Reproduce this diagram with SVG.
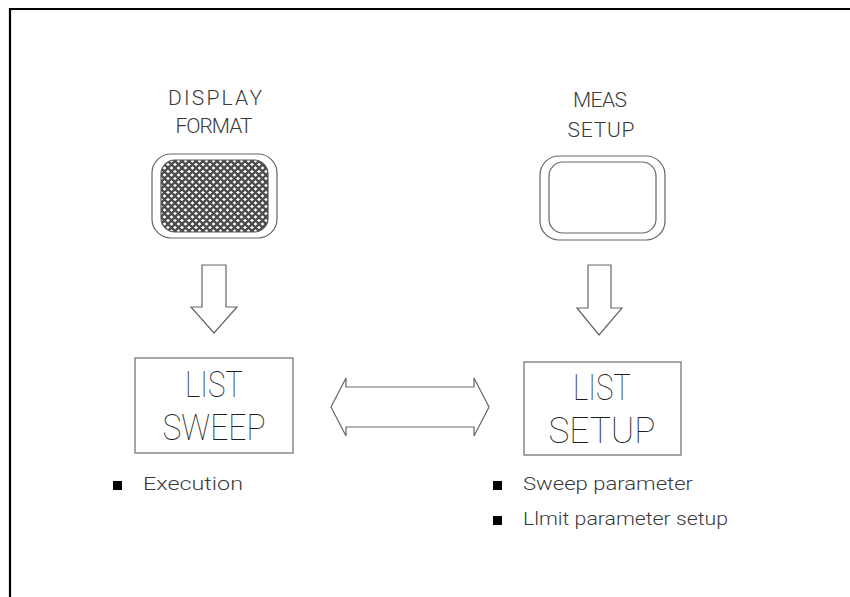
<svg xmlns="http://www.w3.org/2000/svg" width="850" height="597" viewBox="0 0 850 597">
<defs>
<pattern id="hatch" width="7" height="7" patternUnits="userSpaceOnUse">
<rect width="7" height="7" fill="#fff"/>
<path d="M0,0 L7,7 M7,0 L0,7 M-1,6 L1,8 M6,-1 L8,1 M6,8 L8,6 M-1,1 L1,-1" stroke="#4a4a4a" stroke-width="2.3"/>
</pattern>
<style>
.lbl{font-family:Roboto,"Liberation Sans",Arial,sans-serif;font-weight:300;fill:#3a3a3a}
.key{fill:none;stroke:#666;stroke-width:1.2}
.box{fill:none;stroke:#777;stroke-width:1.3}
.big{font-size:36px;text-anchor:middle;font-weight:100;fill:#1e1e1e}
.top{font-size:21px;text-anchor:middle}
.note{font-size:18px}
.arrow{fill:#fff;stroke:#666;stroke-width:1.2;stroke-linejoin:miter}
</style>
</defs>
<rect width="850" height="597" fill="#fff"/>
<g id="frame" stroke="#000" stroke-width="2.2" fill="none">
<line x1="9" y1="9" x2="850" y2="9"/>
<line x1="10" y1="8" x2="10" y2="597"/>
</g>
<g id="display-format">
<text class="lbl top" x="215" y="105" textLength="94" lengthAdjust="spacing">DISPLAY</text>
<text class="lbl top" x="214" y="133" textLength="77" lengthAdjust="spacing">FORMAT</text>
<rect class="key" x="152" y="154" width="125" height="84" rx="19" ry="19"/>
<rect x="161" y="160" width="107" height="72" rx="14" ry="14" fill="url(#hatch)" stroke="#555" stroke-width="1.2"/>
</g>
<g id="meas-setup">
<text class="lbl top" x="600" y="107" textLength="54" lengthAdjust="spacing">MEAS</text>
<text class="lbl top" x="601" y="137" textLength="67" lengthAdjust="spacing">SETUP</text>
<rect class="key" x="540" y="156" width="125" height="84" rx="19" ry="19"/>
<rect class="key" x="549" y="162" width="107" height="71" rx="14" ry="14"/>
</g>
<g id="list-sweep">
<rect class="box" x="135" y="358" width="158" height="95"/>
<text class="lbl big" x="214" y="397" textLength="58" lengthAdjust="spacingAndGlyphs">LIST</text>
<text class="lbl big" x="214" y="440" textLength="103" lengthAdjust="spacingAndGlyphs">SWEEP</text>
</g>
<g id="list-setup">
<rect class="box" x="524" y="362" width="157" height="93"/>
<text class="lbl big" x="602" y="400" textLength="58" lengthAdjust="spacingAndGlyphs">LIST</text>
<text class="lbl big" x="602" y="443" textLength="107" lengthAdjust="spacingAndGlyphs">SETUP</text>
</g>
<g id="sweep-notes">
<rect x="113" y="481" width="9" height="9" fill="#000"/>
<text class="lbl note" x="143" y="490" textLength="100" lengthAdjust="spacingAndGlyphs">Execution</text>
</g>
<g id="setup-notes">
<rect x="493" y="481" width="9" height="9" fill="#000"/>
<text class="lbl note" x="523" y="490" textLength="170" lengthAdjust="spacingAndGlyphs">Sweep parameter</text>
<rect x="493" y="516" width="9" height="9" fill="#000"/>
<text class="lbl note" x="523" y="525" textLength="205" lengthAdjust="spacingAndGlyphs">Llmit parameter setup</text>
</g>
<g id="connectors">
<polygon class="arrow" points="202,265 226,265 226,307 237,307 214,333 191,307 202,307"/>
<polygon class="arrow" points="588,265 611,265 611,308 622,308 599,335 577,308 588,308"/>
<polygon class="arrow" points="331,407 346,378 346,387 474,387 474,378 489,407 474,436 474,427 346,427 346,436"/>
</g>
</svg>
